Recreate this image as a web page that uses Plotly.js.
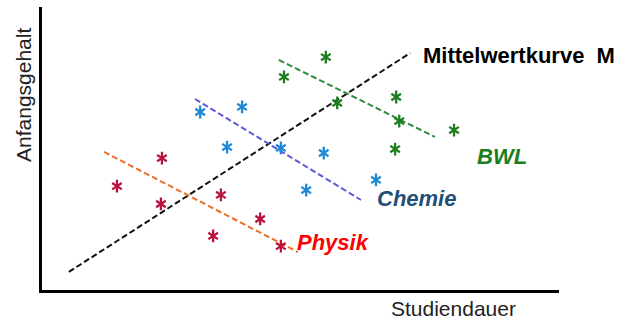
<!DOCTYPE html>
<html>
<head>
<meta charset="utf-8">
<script src="https://cdn.plot.ly/plotly-3.0.1.min.js"></script>
<style>html,body{margin:0;padding:0;background:#fff;}#chart{width:620px;height:321px;}</style>
</head>
<body>
<div id="chart"></div>
<script>
// Data (arbitrary units: Studiendauer on x, Anfangsgehalt on y)
const physikX = [1.45, 2.32, 2.30, 3.46, 3.31, 4.22, 4.62];
const physikY = [3.67, 4.66, 3.04, 3.36, 1.91, 2.51, 1.55];
const physikLineX = [1.20, 4.95];
const physikLineY = [4.88, 1.34];

const chemieX = [3.06, 3.87, 3.58, 4.62, 5.45, 5.11, 6.46];
const chemieY = [6.29, 6.47, 5.05, 5.02, 4.84, 3.53, 3.89];
const chemieLineX = [2.96, 6.17];
const chemieLineY = [6.75, 3.18];

const bwlX = [4.68, 5.49, 5.71, 6.85, 6.91, 6.83, 7.97];
const bwlY = [7.53, 8.23, 6.61, 6.82, 5.97, 4.98, 5.65];
const bwlLineX = [4.58, 7.60];
const bwlLineY = [8.13, 5.41];

const mittelX = [0.52, 7.12];
const mittelY = [0.64, 8.37];

const FONT = 'Arial, "Liberation Sans", sans-serif';

function lineTrace(x, y, color) {
  return {x: x, y: y, mode: 'lines', type: 'scatter', hoverinfo: 'skip',
    line: {color: color, width: 2, dash: '6px,3px'}};
}
// six-armed asterisk = y-up + y-down glyphs on the same points
function pointTraces(x, y, color) {
  return ['y-up-open', 'y-down-open'].map(s => ({x: x, y: y, mode: 'markers', type: 'scatter',
    marker: {symbol: s, size: 8, color: color, line: {color: color, width: 2.3}}}));
}

const data = [
  lineTrace(mittelX, mittelY, '#111111'),
  lineTrace(physikLineX, physikLineY, '#e8702a'),
  lineTrace(chemieLineX, chemieLineY, '#5a5ad8'),
  lineTrace(bwlLineX, bwlLineY, '#2e8b3a'),
  ...pointTraces(physikX, physikY, '#b8123f'),
  ...pointTraces(chemieX, chemieY, '#1e88d4'),
  ...pointTraces(bwlX, bwlY, '#1e7d1e')
];

const pw = 620 - 42 - 61, ph = 321 - 7 - 31;

const layout = {
  width: 620, height: 321,
  margin: {l: 42, r: 61, t: 7, b: 31},
  showlegend: false,
  paper_bgcolor: '#ffffff', plot_bgcolor: '#ffffff',
  xaxis: {range: [0, 10], showline: true, linecolor: '#000', linewidth: 3,
    showgrid: false, zeroline: false, showticklabels: false, ticks: '', fixedrange: true},
  yaxis: {range: [0, 10], showline: true, linecolor: '#000', linewidth: 3,
    showgrid: false, zeroline: false, showticklabels: false, ticks: '', fixedrange: true},
  annotations: [
    {x: 7.33, y: 8.27, xref: 'x', yref: 'y', xanchor: 'left', yanchor: 'middle', showarrow: false,
     text: '<b>Mittelwertkurve  M</b>', font: {family: FONT, size: 22, color: '#000'}},
    {x: 8.38, y: 4.72, xref: 'x', yref: 'y', xanchor: 'left', yanchor: 'middle', showarrow: false,
     text: '<b><i>BWL</i></b>', font: {family: FONT, size: 22, color: '#1e7d1e'}},
    {x: 6.45, y: 3.24, xref: 'x', yref: 'y', xanchor: 'left', yanchor: 'middle', showarrow: false,
     text: '<b><i>Chemie</i></b>', font: {family: FONT, size: 22, color: '#1f4e79'}},
    {x: 4.90, y: 1.68, xref: 'x', yref: 'y', xanchor: 'left', yanchor: 'middle', showarrow: false,
     text: '<b><i>Physik</i></b>', font: {family: FONT, size: 22, color: '#ff0000'}},
    {x: (453 - 42) / pw, y: (290 - 308) / ph, xref: 'paper', yref: 'paper', xanchor: 'center', yanchor: 'middle',
     borderpad: 0, showarrow: false, text: 'Studiendauer', font: {family: FONT, size: 21, color: '#222'}},
    {x: (23 - 42) / pw, y: (290 - 95) / ph, xref: 'paper', yref: 'paper', xanchor: 'center', yanchor: 'middle',
     showarrow: false, text: 'Anfangsgehalt', textangle: -90, font: {family: FONT, size: 21, color: '#222'}}
  ]
};

Plotly.newPlot('chart', data, layout, {displayModeBar: false, staticPlot: true});
</script>
</body>
</html>
